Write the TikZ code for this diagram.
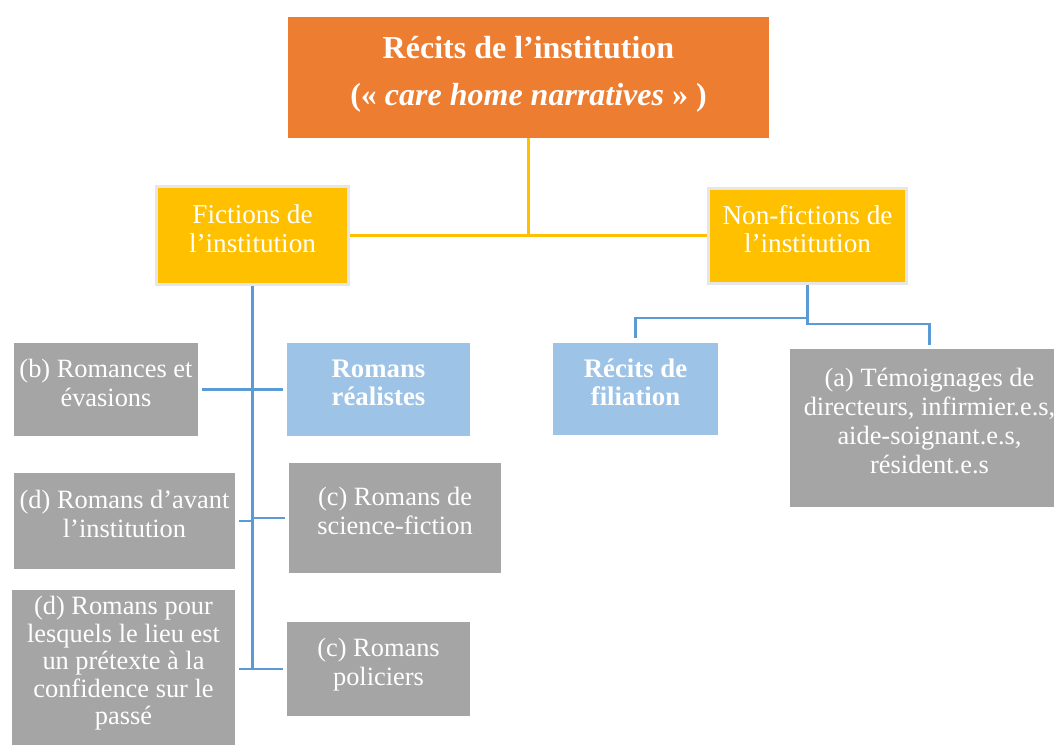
\documentclass[tikz,border=0pt]{standalone}
\usepackage{fontspec}
\setmainfont{Liberation Serif}
\definecolor{orangebox}{HTML}{ED7D31}
\definecolor{yellowbox}{HTML}{FFC000}
\definecolor{greybox}{HTML}{A5A5A5}
\definecolor{bluebox}{HTML}{9DC3E6}
\definecolor{blueline}{HTML}{5B9BD5}
\definecolor{rimgrey}{HTML}{E6E6E6}
\begin{document}
\begin{tikzpicture}[x=0.5pt,y=-0.5pt,
    box/.style={inner sep=0pt,align=center,text=white,text depth=7pt,font=\fontsize{13.2}{14.4}\selectfont},
    greynode/.style={box,fill=greybox},
    bluenode/.style={box,fill=bluebox,font=\fontsize{13.4}{14}\selectfont\bfseries},
    yellownode/.style={box,fill=yellowbox,draw=rimgrey,line width=1.5pt,font=\fontsize{13.6}{14.2}\selectfont},
    yline/.style={draw=yellowbox,line width=1.1pt},
    bline/.style={draw=blueline,line width=1.1pt}]
            \useasboundingbox (0,0) rectangle (1054,745);

            \node[box,fill=orangebox,minimum width=240.5pt,minimum height=60.5pt,text depth=6.5pt,
                  font=\fontsize{16}{23.5}\selectfont\bfseries] (rec) at (528.5,77.5)
                  {Récits de l'institution\\(« \textit{care home narratives} » )};
            \node[yellownode,minimum width=96pt,minimum height=49pt] (fic) at (252.5,235.5) {Fictions de\\l'institution};
            \node[yellownode,minimum width=99pt,minimum height=47.5pt] (nonfic) at (807.5,236) {Non-fictions de\\l'institution};

            \node[greynode,minimum width=92pt,minimum height=46.5pt] (rom) at (106,389.5) {(b) Romances et\\évasions};
            \node[bluenode,minimum width=91.5pt,minimum height=46.5pt] (real) at (378.5,389.5) {Romans\\réalistes};
            \node[greynode,minimum width=110.5pt,minimum height=48pt] (avant) at (124.5,521) {(d) Romans d'avant\\l'institution};
            \node[greynode,minimum width=106pt,minimum height=55pt] (sf) at (395,518) {(c) Romans de\\science-fiction};
            \node[greynode,minimum width=111.5pt,minimum height=77.5pt,font=\fontsize{13.2}{13.7}\selectfont] (lieu) at (123.5,667.5) {(d) Romans pour\\lesquels le lieu est\\un prétexte à la\\confidence sur le\\passé};
            \node[greynode,minimum width=91.5pt,minimum height=47pt] (pol) at (378.5,669) {(c) Romans\\policiers};

            \node[bluenode,minimum width=82.5pt,minimum height=46pt] (fil) at (635.5,389) {Récits de\\filiation};
            \node[greynode,minimum width=139.5pt,minimum height=79pt] (tem) at (929.5,428) {(a) Témoignages de\\directeurs, infirmier.e.s,\\aide-soignant.e.s,\\résident.e.s};

            \coordinate (kl) at (807.5,318);
            \coordinate (kr) at (807.5,324);

            \draw[yline] (rec) -- (rec |- fic);
            \draw[yline] (fic.east) -- (fic.east -| nonfic.west);

            \draw[bline] (fic) -- (fic |- pol);
            \draw[bline,shorten <=2pt,shorten >=2pt] (rom) -- (real);
            \draw[bline,shorten <=2pt] (avant) -- (avant -| fic);
            \draw[bline,shorten >=2pt] (sf -| fic) -- (sf);
            \draw[bline,shorten <=2pt,shorten >=2pt] (lieu.east |- pol) -- (pol);

            \draw[bline,shorten >=2pt] (nonfic) -- (kr) -| (tem);
            \draw[bline,shorten >=2.5pt] (kl) -| (fil);
\end{tikzpicture}
\end{document}
